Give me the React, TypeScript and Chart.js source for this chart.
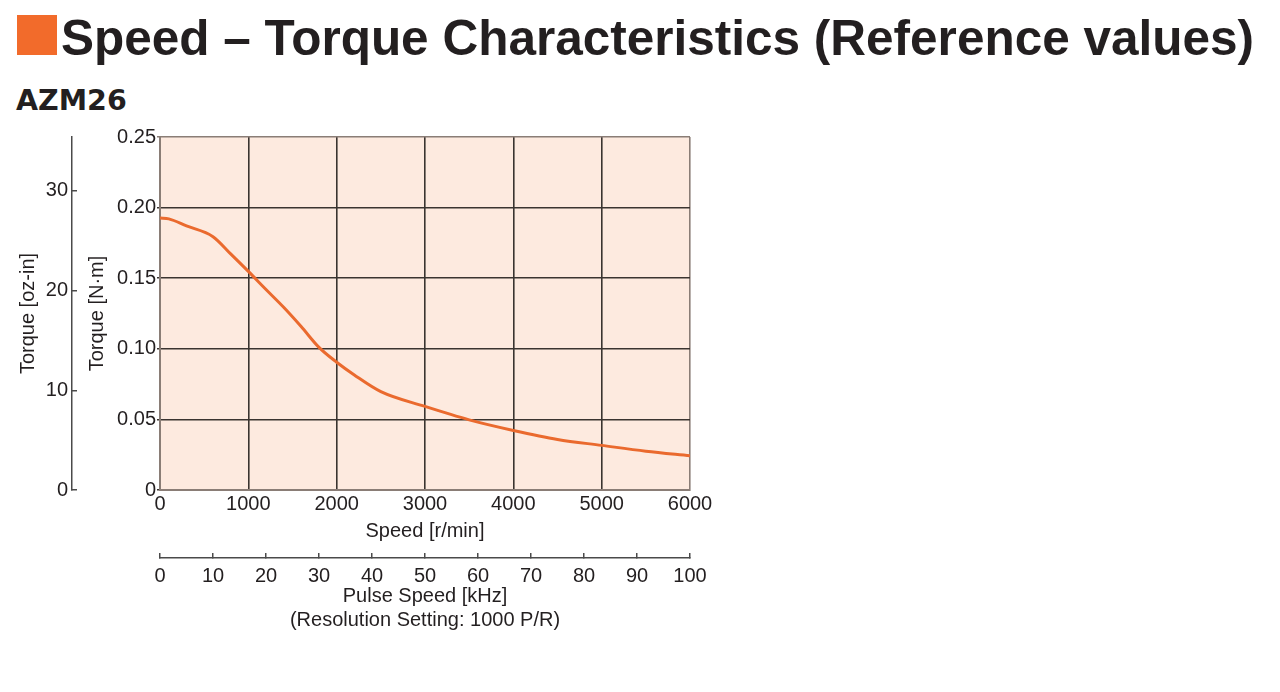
import React, { useEffect, useRef } from "react";
import { Chart, registerables } from "chart.js";

Chart.register(...registerables);

// ---- data ----
const speedRpm = [0, 100, 300, 600, 800, 1000, 1200, 1400, 1600, 1800, 2000, 2200, 2500, 3000, 3500, 4000, 4500, 5000, 5500, 6000];
const torqueNm = [0.1926, 0.192, 0.187, 0.1794, 0.1672, 0.1548, 0.142, 0.1294, 0.1156, 0.101, 0.0905, 0.0815, 0.0697, 0.0592, 0.0497, 0.0422, 0.0358, 0.0316, 0.0275, 0.0243];

const speedTicks = [0, 1000, 2000, 3000, 4000, 5000, 6000];
const pulseTicks = [0, 10, 20, 30, 40, 50, 60, 70, 80, 90, 100];
const nmTicks = [0, 0.05, 0.1, 0.15, 0.2, 0.25];
const ozTicks = [0, 10, 20, 30];

const NM_TO_OZIN = 141.612;
const TITLE = "Speed \u2013 Torque Characteristics (Reference values)";
const SUBTITLE = "AZM26";

const FONT = "'Liberation Sans', Arial, Helvetica, sans-serif";
const TEXT = "#231f20";
const EDGE = "#8a7d76";
const GRID = "#3a3430";
const AXIS = "#4a4a4a";

const bgPlugin = {
  id: "plotBg",
  beforeDraw(chart: any) {
    const { ctx, chartArea } = chart;
    ctx.save();
    ctx.fillStyle = "#fdeadf";
    ctx.fillRect(chartArea.left, chartArea.top, chartArea.right - chartArea.left, chartArea.bottom - chartArea.top);
    ctx.restore();
  },
};

export default function App() {
  const ref = useRef<HTMLCanvasElement | null>(null);

  useEffect(() => {
    if (!ref.current) return;
    const tickFont = { family: FONT, size: 20, lineHeight: 1.2 };
    const chart = new Chart(ref.current, {
      type: "line",
      data: {
        datasets: [
          {
            label: "Torque",
            data: speedRpm.map((s, i) => ({ x: s, y: torqueNm[i] })),
            borderColor: "#ea6a2e",
            borderWidth: 3,
            pointRadius: 0,
            tension: 0.4,
            cubicInterpolationMode: "monotone",
            xAxisID: "x",
            yAxisID: "y",
          },
        ],
      },
      options: {
        responsive: false,
        animation: false,
        layout: { padding: { left: 10, top: 137, right: 590, bottom: 60 } },
        plugins: { legend: { display: false }, tooltip: { enabled: false } },
        scales: {
          x: {
            type: "linear",
            position: "bottom",
            weight: 0,
            min: 0,
            max: 6000,
            afterBuildTicks: (s: any) => { s.ticks = speedTicks.map((v) => ({ value: v })); },
            ticks: { color: TEXT, font: tickFont, padding: 2, maxRotation: 0, autoSkip: false, callback: (v: any) => String(v) },
            grid: {
              color: (c: any) => (c.tick && c.tick.value === 6000 ? EDGE : GRID),
              lineWidth: 1.6,
              drawTicks: false,
            },
            border: { display: true, color: EDGE, width: 2 },
            title: { display: true, text: "Speed [r/min]", color: TEXT, font: tickFont, padding: { top: 0, bottom: 14.6 } },
            afterFit: (s: any) => { s.height = 68; },
          },
          x2: {
            type: "linear",
            position: "bottom",
            weight: 1,
            min: 0,
            max: 100,
            afterBuildTicks: (s: any) => { s.ticks = pulseTicks.map((v) => ({ value: v })); },
            ticks: { color: TEXT, font: tickFont, padding: 11, maxRotation: 0, autoSkip: false, callback: (v: any) => String(v) },
            grid: { drawOnChartArea: false, tickLength: -5, color: AXIS, lineWidth: 1.5 },
            border: { display: true, color: AXIS, width: 1.5 },
            title: {
              display: true,
              text: ["Pulse Speed [kHz]", "(Resolution Setting: 1000 P/R)"],
              color: TEXT,
              font: { family: FONT, size: 20, lineHeight: 24 / 20 },
              padding: { top: 0, bottom: 0 },
            },
            afterFit: (s: any) => { s.height = 74; },
          },
          y: {
            type: "linear",
            position: "left",
            weight: 0,
            min: 0,
            max: 0.25,
            afterBuildTicks: (s: any) => { s.ticks = nmTicks.map((v) => ({ value: v })); },
            ticks: {
              color: TEXT,
              font: tickFont,
              padding: 1,
              callback: (v: any) => (Number(v) === 0 ? "0" : Number(v).toFixed(2)),
            },
            grid: {
              color: (c: any) => (c.tick && Math.abs(c.tick.value - 0.25) < 1e-9 ? EDGE : GRID),
              lineWidth: 1.6,
              tickLength: 3,
            },
            border: { display: true, color: EDGE, width: 2 },
            title: { display: true, text: "Torque [N\u00b7m]", color: TEXT, font: tickFont, padding: { top: 13, bottom: 0 } },
            afterFit: (s: any) => { s.width = 88; },
          },
          y2: {
            type: "linear",
            position: "left",
            weight: 1,
            min: 0,
            max: 0.25 * NM_TO_OZIN,
            afterBuildTicks: (s: any) => { s.ticks = ozTicks.map((v) => ({ value: v })); },
            ticks: { color: TEXT, font: tickFont, padding: 9, callback: (v: any) => String(v) },
            grid: { drawOnChartArea: false, tickLength: -5, color: AXIS, lineWidth: 1.5 },
            border: { display: true, color: AXIS, width: 1.5 },
            title: { display: true, text: "Torque [oz-in]", color: TEXT, font: tickFont, padding: { top: 6, bottom: 0 } },
            afterFit: (s: any) => { s.width = 62; },
          },
        },
      },
      plugins: [bgPlugin],
    } as any);
    return () => chart.destroy();
  }, []);

  return (
    <div style={{ position: "absolute", left: 0, top: 0, width: 1280, height: 692, background: "#fff", overflow: "hidden" }}>
      <div style={{ position: "absolute", left: 17, top: 15, width: 40, height: 40, background: "#f26b2b" }} />
      <div
        style={{
          position: "absolute",
          left: 61,
          top: 13,
          fontFamily: FONT,
          fontWeight: 700,
          fontSize: 49.5,
          lineHeight: "49.5px",
          color: TEXT,
          whiteSpace: "nowrap",
        }}
      >
        {TITLE}
      </div>
      <div
        style={{
          position: "absolute",
          left: 16,
          top: 87,
          fontFamily: "'DejaVu Sans', sans-serif",
          fontWeight: 700,
          fontSize: 28.5,
          lineHeight: "28.5px",
          color: TEXT,
          whiteSpace: "nowrap",
        }}
      >
        {SUBTITLE}
      </div>
      <canvas ref={ref} width={1280} height={692} style={{ position: "absolute", left: 0, top: 0 }} />
    </div>
  );
}
